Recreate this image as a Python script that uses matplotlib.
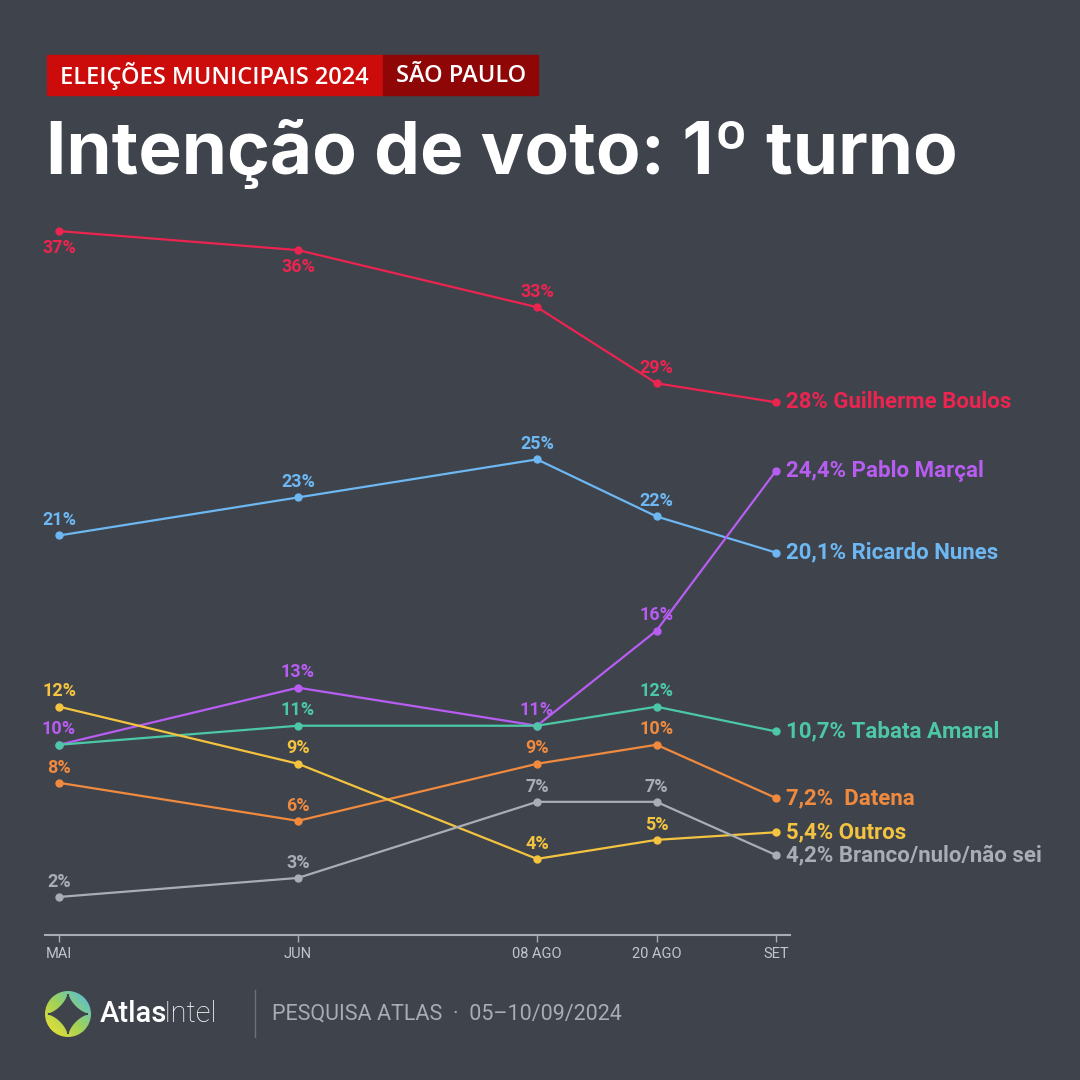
"""Intenção de voto 1º turno - São Paulo 2024 (AtlasIntel)."""

import numpy as np
import matplotlib.pyplot as plt
from matplotlib.colors import LinearSegmentedColormap
from matplotlib.patches import Rectangle, Polygon, Circle

plt.rcParams["font.family"] = ["Roboto", "DejaVu Sans"]

BG = "#3e434c"

# x positions follow survey dates (MAI, JUN, 08 AGO, 20 AGO, SET)
x_pos = [0, 2, 4, 5, 6]
x_labels = ["MAI", "JUN", "08 AGO", "20 AGO", "SET"]

boulos = [37, 36, 33, 29, 28]
nunes = [21, 23, 25, 22, 20.1]
marcal = [10, 13, 11, 16, 24.4]
tabata = [10, 11, 11, 12, 10.7]
datena = [8, 6, 9, 10, 7.2]
outros = [12, 9, 4, 5, 5.4]
branco = [2, 3, 7, 7, 4.2]

names = ["Guilherme Boulos", "Ricardo Nunes", "Pablo Marçal", "Tabata Amaral",
         " Datena", "Outros", "Branco/nulo/não sei"]
end_labels = ["28%", "20,1%", "24,4%", "10,7%", "7,2%", "5,4%", "4,2%"]

series = [
    (boulos, "#ec2450", ["below", "below", "above", "above"]),
    (nunes, "#6db7f2", ["above"] * 4),
    (marcal, "#b85df2", ["above"] * 4),
    (tabata, "#4cc8a6", [None, "above", None, "above"]),
    (datena, "#f08a3e", ["above"] * 4),
    (outros, "#f4c340", ["above"] * 4),
    (branco, "#a9adb4", ["above"] * 4),
]

fig = plt.figure(figsize=(10.8, 10.8), dpi=100, facecolor=BG)

# axes placed so that x=0 -> 59px, x=6 -> 776px, y=0 -> 935px, 1% = 19px
ax = fig.add_axes([45 / 1080, 145 / 1080, 745 / 1080, 761 / 1080])
ax.set_facecolor("none")
ax.set_xlim(-14 / 119.5, 6 + 14 / 119.5)
ax.set_ylim(0, 40)
for s in ["top", "right", "left"]:
    ax.spines[s].set_visible(False)
ax.spines["bottom"].set_color("#a9acb2")
ax.spines["bottom"].set_linewidth(1.5)
ax.set_yticks([])
ax.set_xticks(x_pos)
ax.set_xticklabels(x_labels)
ax.tick_params(axis="x", colors="#a9acb2", labelcolor="#c3c6cb", length=5,
               width=1, labelsize=10.5, pad=4)

for (vals, color, pos), name, end in zip(series, names, end_labels):
    ax.plot(x_pos, vals, color=color, lw=1.6, marker="o", ms=5,
            solid_capstyle="round", clip_on=False, zorder=3)
    for xv, yv, p in zip(x_pos[:-1], vals[:-1], pos):
        if p is None:
            continue
        off = 11 if p == "above" else -12
        ax.annotate(f"{yv:g}%", (xv, yv), xytext=(0, off), textcoords="offset points",
                    ha="center", va="center", color=color, fontsize=13,
                    fontweight="bold", zorder=4)
    ax.annotate(f"{end} {name}", (x_pos[-1], vals[-1]), xytext=(7, 0),
                textcoords="offset points", ha="left", va="center", color=color,
                fontsize=16, fontweight="bold", annotation_clip=False)

# header banner
fig.patches.append(Rectangle((47 / 1080, 1 - 95 / 1080), 336 / 1080, 40 / 1080,
                             transform=fig.transFigure, color="#cc0b0b", zorder=0))
fig.patches.append(Rectangle((383 / 1080, 1 - 95 / 1080), 155 / 1080, 40 / 1080,
                             transform=fig.transFigure, color="#8e0606", zorder=0))
fig.text(60 / 1080, 1 - 76 / 1080, "ELEIÇÕES MUNICIPAIS 2024", color="white",
         fontsize=17, fontweight="semibold", va="center", ha="left", family="Open Sans")
fig.text(396 / 1080, 1 - 76 / 1080, "SÃO PAULO", color="white",
         fontsize=17, fontweight="semibold", va="center", ha="left", family="Open Sans")

fig.text(46 / 1080, 1 - 154 / 1080, "Intenção de voto: 1º turno", color="white",
         fontsize=52.5, fontweight="bold", va="center", ha="left", family="Inter")

# footer logo: gradient disk with dark four-pointed star
lx, ly, r = 68, 1080 - 1014, 23
lax = fig.add_axes([(lx - r) / 1080, (ly - r) / 1080, 2 * r / 1080, 2 * r / 1080])
lax.set_axis_off()
gx, gy = np.meshgrid(np.linspace(-1, 1, 80), np.linspace(-1, 1, 80))
im = lax.imshow((gx + gy) / 2, origin="lower", extent=(-1, 1, -1, 1),
                cmap=LinearSegmentedColormap.from_list(
                    "atlas", ["#f4e22c", "#9fd25a", "#4bbcea"]))
im.set_clip_path(Circle((0, 0), 1, transform=lax.transData))
lax.set_xlim(-1, 1)
lax.set_ylim(-1, 1)
t = np.linspace(0, 2 * np.pi, 400)
k = 2 / 0.7
sx = 0.86 * np.sign(np.cos(t)) * np.abs(np.cos(t)) ** k
sy = 0.86 * np.sign(np.sin(t)) * np.abs(np.sin(t)) ** k
lax.add_patch(Polygon(np.column_stack([sx, sy]), color=BG, zorder=3))

atlas = fig.text(100 / 1080, ly / 1080, "Atlas", color="white", fontsize=21,
                 va="center", ha="left", family="Roboto", fontweight="medium")
fig.add_artist(plt.Annotation("Intel", xy=(1, 0.5), xycoords=atlas, xytext=(-2.5, 0),
                              textcoords="offset points", va="center", ha="left",
                              color="white", fontsize=21, family="Roboto",
                              fontweight="light"))
fig.lines.append(plt.Line2D([255 / 1080, 255 / 1080], [1 - 990 / 1080, 1 - 1037 / 1080],
                            transform=fig.transFigure, color="#6c7079", lw=1))
fig.text(272 / 1080, ly / 1080, "PESQUISA ATLAS  ·  05–10/09/2024", color="#a9acb2",
         fontsize=15.5, va="center", ha="left", family="Roboto")

fig.savefig("out.png", dpi=100, facecolor=BG)
